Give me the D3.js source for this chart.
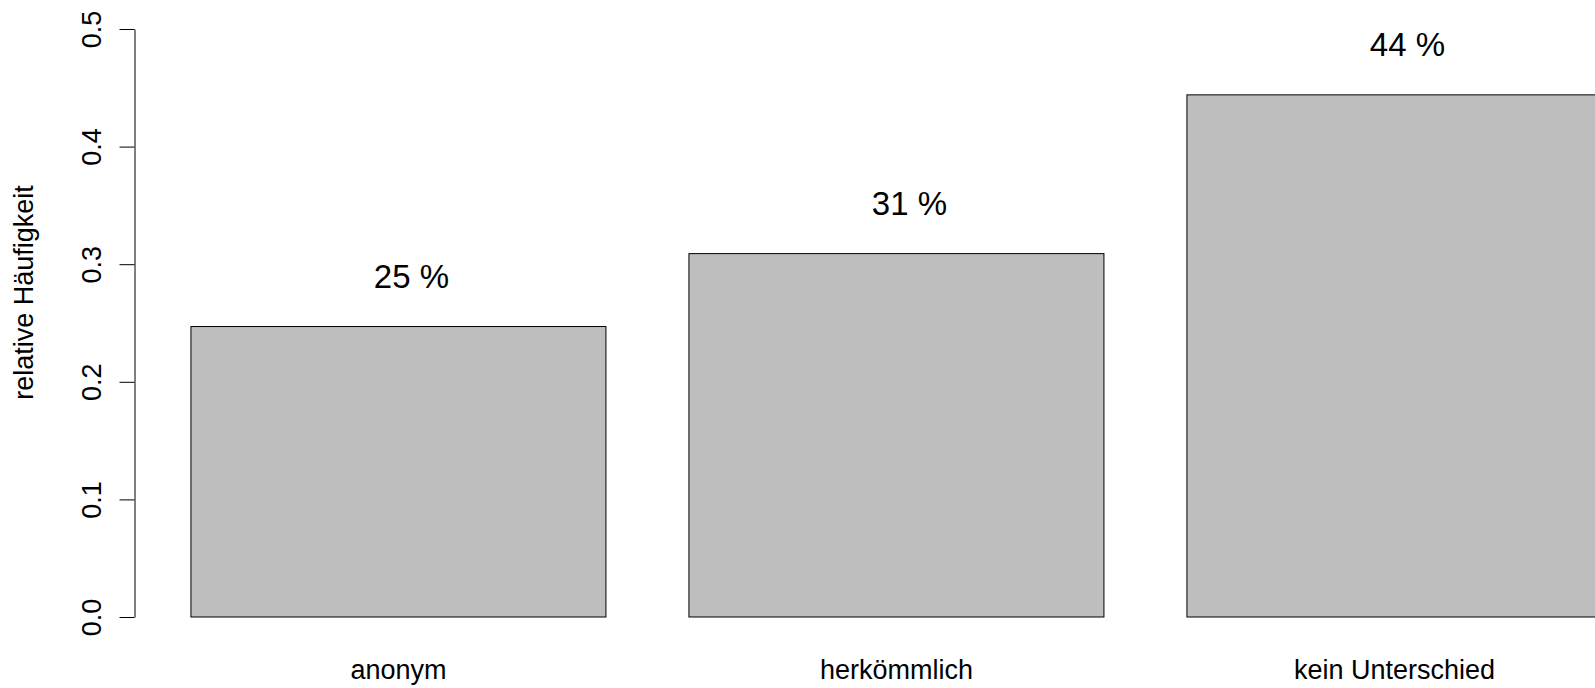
<!DOCTYPE html>
<html>
<head>
<meta charset="utf-8">
<script src="https://cdn.jsdelivr.net/npm/d3@7"></script>
<style>
  html, body { margin: 0; padding: 0; background: #fff; }
  svg { display: block; font-family: "Liberation Sans", Arial, Helvetica, sans-serif; }
</style>
</head>
<body>
<div id="chart"></div>
<script>
'use strict';

// data: 20, 25, 36 of 81 answers
const categories = ["anonym", "herkömmlich", "kein Unterschied"];
const shares = [0.247, 0.309, 0.444];
const shareLabels = ["25 %", "31 %", "44 %"];
const yTicks = [0.0, 0.1, 0.2, 0.3, 0.4, 0.5];

const width = 1595;
const height = 688;
const plotLeft = 134.5;
const unitPx = 415;          // one bar width in px
const barSpace = 0.2;        // R barplot space
const xMin = 0.064;          // usr left (0.2 minus 4% padding)

const xScale = d3.scaleLinear()
  .domain([xMin, xMin + 1])
  .range([plotLeft, plotLeft + unitPx]);

const yScale = d3.scaleLinear()
  .domain([0, 0.5])
  .range([617, 29]);

const svg = d3.select("#chart").append("svg")
  .attr("width", width)
  .attr("height", height);

const bars = categories.map(function (c, i) {
  const left = barSpace + i * (1 + barSpace);
  return { name: c, value: shares[i], label: shareLabels[i], left: left, mid: left + 0.5 };
});

// bars
svg.append("g").selectAll("rect")
  .data(bars)
  .enter().append("rect")
  .attr("x", d => xScale(d.left))
  .attr("y", d => yScale(d.value))
  .attr("width", d => xScale(d.left + 1) - xScale(d.left))
  .attr("height", d => yScale(0) - yScale(d.value))
  .style("fill", "#bebebe")
  .style("stroke", "#000")
  .style("stroke-width", 1);

// y axis
const yAxis = d3.axisLeft(yScale)
  .tickValues(yTicks)
  .tickSize(15)
  .tickSizeOuter(0)
  .tickFormat(d3.format(".1f"));

const yAxisElement = svg.append("g")
  .attr("class", "y-axis")
  .attr("transform", "translate(" + plotLeft + ",0)")
  .call(yAxis);

yAxisElement.select(".domain").attr("stroke", "#000");
yAxisElement.selectAll(".tick line").attr("stroke", "#000");
yAxisElement.selectAll(".tick text")
  .attr("x", 0)
  .attr("dy", 0)
  .attr("text-anchor", "middle")
  .attr("transform", "translate(-34,0) rotate(-90)")
  .style("font-size", "27px")
  .style("font-family", "'Liberation Sans', Arial, sans-serif")
  .attr("fill", "#000");

// y axis title
svg.append("text")
  .attr("transform", "translate(33,292.5) rotate(-90)")
  .attr("text-anchor", "middle")
  .style("font-size", "27px")
  .text("relative Häufigkeit");

// category labels
svg.append("g").selectAll("text")
  .data(bars)
  .enter().append("text")
  .attr("x", d => xScale(d.mid))
  .attr("y", 679)
  .attr("text-anchor", "middle")
  .style("font-size", "27px")
  .text(d => d.name);

// percent labels above bars
svg.append("g").selectAll("text")
  .data(bars)
  .enter().append("text")
  .attr("x", d => xScale(d.mid))
  .attr("dx", 13)
  .attr("y", d => yScale(d.value))
  .attr("dy", -39)
  .attr("text-anchor", "middle")
  .style("font-size", "33px")
  .text(d => d.label);
</script>
</body>
</html>
